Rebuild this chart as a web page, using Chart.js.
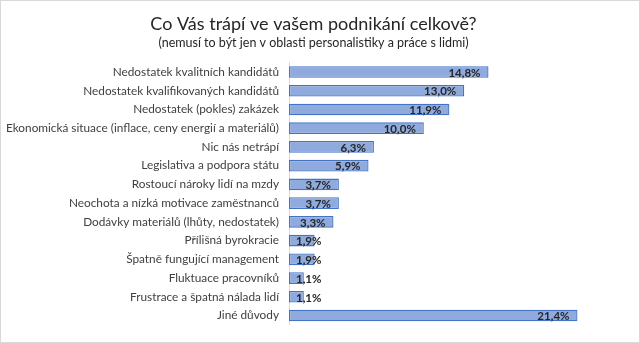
<!DOCTYPE html>
<html>
<head>
<meta charset="utf-8">
<script src="https://cdn.jsdelivr.net/npm/chart.js@4"></script>
<style>
  html, body { margin: 0; padding: 0; background: #fff; }
  #wrap { width: 638px; height: 341px; border: 1px solid #d9d9d9; position: relative; }
</style>
</head>
<body>
<div id="wrap"><canvas id="chart"></canvas></div>
<script>
// Data
const categories = [
  'Nedostatek kvalitních kandidátů',
  'Nedostatek kvalifikovaných kandidátů',
  'Nedostatek (pokles) zakázek',
  'Ekonomická situace (inflace, ceny energií a materiálů)',
  'Nic nás netrápí',
  'Legislativa a podpora státu',
  'Rostoucí nároky lidí na mzdy',
  'Neochota a nízká motivace zaměstnanců',
  'Dodávky materiálů (lhůty, nedostatek)',
  'Přílišná byrokracie',
  'Špatně fungující management',
  'Fluktuace pracovníků',
  'Frustrace a špatná nálada lidí',
  'Jiné důvody'
];
const values = [14.8, 13.0, 11.9, 10.0, 6.3, 5.9, 3.7, 3.7, 3.3, 1.9, 1.9, 1.1, 1.1, 21.4];

const FONT = 'Lato, "Open Sans", sans-serif';

// value labels, Excel "inside end" style
const valueLabels = {
  id: 'valueLabels',
  afterDatasetsDraw(chart) {
    const ctx = chart.ctx;
    const meta = chart.getDatasetMeta(0);
    const left = chart.chartArea.left;
    ctx.save();
    ctx.font = 'bold 11.5px ' + FONT;
    ctx.fillStyle = '#262626';
    ctx.textBaseline = 'middle';
    meta.data.forEach((bar, i) => {
      const txt = values[i].toFixed(1).replace('.', ',') + '%';
      const w = ctx.measureText(txt).width;
      const x = Math.max(bar.x - 8 - w, left + 7);
      ctx.fillText(txt, x, bar.y + 1);
    });
    ctx.restore();
  }
};

const ctx = document.getElementById('chart');
new Chart(ctx, {
  type: 'bar',
  data: {
    labels: categories,
    datasets: [{
      data: values,
      backgroundColor: (c) => {
        const bar = c.element;
        if (!bar || bar.y === undefined || isNaN(bar.y)) return '#8faadc';
        const g = c.chart.ctx.createLinearGradient(0, bar.y - 6, 0, bar.y + 6);
        g.addColorStop(0, '#aebfe6');
        g.addColorStop(0.5, '#7e9ad6');
        g.addColorStop(1, '#aebfe6');
        return g;
      },
      borderColor: '#4472c4',
      borderWidth: 1.3,
      borderSkipped: false,
      barPercentage: 0.62,
      categoryPercentage: 1.0
    }]
  },
  options: {
    indexAxis: 'y',
    responsive: true,
    maintainAspectRatio: false,
    animation: false,
    layout: { padding: { top: 0, right: 13, bottom: 16, left: 0 } },
    plugins: {
      legend: { display: false },
      tooltip: { enabled: false },
      title: {
        display: true,
        text: 'Co Vás trápí ve vašem podnikání celkově?',
        color: '#262626',
        font: { family: FONT, size: 18, weight: 'normal' },
        padding: { top: 12, bottom: 1 }
      },
      subtitle: {
        display: true,
        text: '(nemusí to být jen v oblasti personalistiky a práce s lidmi)',
        color: '#262626',
        font: { family: FONT, size: 12.5 },
        padding: { top: 0, bottom: 12 }
      }
    },
    scales: {
      x: {
        display: false,
        min: 0,
        max: 25
      },
      y: {
        afterFit: (s) => { s.width = 288; },
        grid: { display: false, drawTicks: false },
        border: { display: true, color: '#d9d9d9' },
        ticks: {
          color: '#404040',
          padding: 10,
          font: { family: FONT, size: 11.8 }
        }
      }
    }
  },
  plugins: [valueLabels]
});
</script>
</body>
</html>
